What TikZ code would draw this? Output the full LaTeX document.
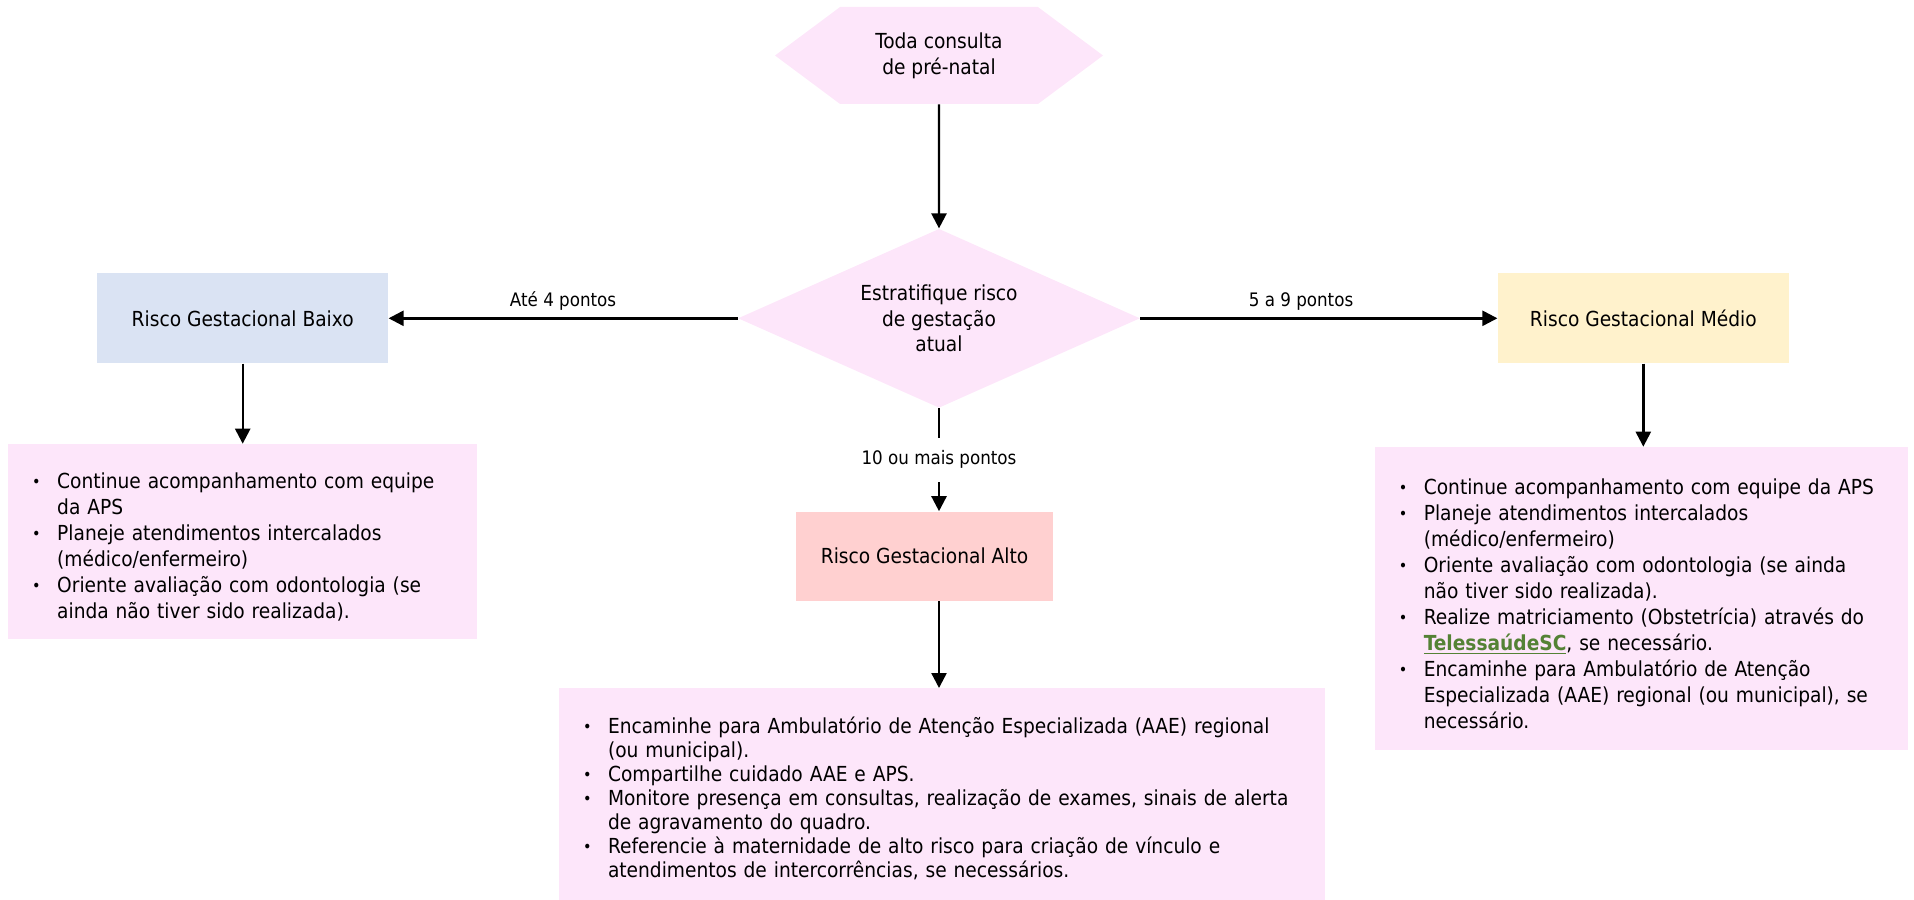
\documentclass[tikz,border=0pt]{standalone}
\usepackage{fontspec}
\setmainfont{DejaVu Sans Condensed}
\usetikzlibrary{shapes.geometric,shapes.symbols,arrows.meta,positioning}
\definecolor{rosa}{HTML}{FDE6FA}
\definecolor{azul}{HTML}{DAE3F3}
\definecolor{amarelo}{HTML}{FFF2CC}
\definecolor{vermelho}{HTML}{FFD0D0}
\definecolor{verde}{HTML}{548235}
\hyphenpenalty=10000
\exhyphenpenalty=10000
\newcommand{\topico}[1]{\par\noindent\hangindent=13pt\hangafter=1\makebox[13pt][l]{\hspace{0.5pt}\raisebox{0.3pt}{\footnotesize\textbullet}}#1\par}

\begin{document}
\begin{tikzpicture}[
  font=\fontsize{10.35pt}{12.8pt}\selectfont,
  hexa/.style={signal, signal to=west and east, signal pointer angle=73.4, fill=rosa, minimum width=164pt, minimum height=48.5pt, align=center, inner sep=1pt},
  losango/.style={diamond, aspect=2.25, fill=rosa, minimum width=201pt, minimum height=89.5pt, align=center, inner sep=0pt},
  risco/.style={minimum width=145.5pt, minimum height=45pt, align=center},
  lista/.style={fill=rosa, inner xsep=11.5pt, inner ysep=0pt, align=left, font=\fontsize{10.35pt}{13pt}\selectfont},
  rotulo/.style={font=\fontsize{9.3pt}{11pt}\selectfont},
  seta/.style={-{Triangle[width=7.5pt,length=7.5pt]}, line width=1.2pt},
  ]
  \useasboundingbox (0,0) rectangle (957pt,-449.5pt);
  \node[hexa] (inicio) at (469.5pt,-27.75pt) {Toda consulta\\de pré-natal};
  \node[losango, below=62pt of inicio] (estrat) {Estratifique risco\\de gestação\\atual};
  \node[risco, fill=azul, left=174.5pt of estrat] (baixo) {Risco Gestacional Baixo};
  \node[risco, fill=amarelo, right=178.5pt of estrat] (medio) {Risco Gestacional Médio};
  \node[risco, fill=vermelho, minimum width=128.5pt, minimum height=44.5pt, below=51.5pt of estrat, xshift=-7.25pt] (alto) {Risco Gestacional Alto};
  % caixas de conduta
  \node[lista, text width=211.5pt, minimum height=97.5pt, below=40pt of baixo] (lbaixo) {%
    \topico{Continue acompanhamento com equipe\newline da APS}
    \topico{Planeje atendimentos intercalados\newline (médico/enfermeiro)}
    \topico{Oriente avaliação com odontologia (se\newline ainda não tiver sido realizada).}};
  \node[lista, text width=243.5pt, minimum height=151.5pt, below=41.5pt of medio, xshift=-1pt] (lmedio) {%
    \topico{Continue acompanhamento com equipe da APS}
    \topico{Planeje atendimentos intercalados\newline (médico/enfermeiro)}
    \topico{Oriente avaliação com odontologia (se ainda\newline não tiver sido realizada).}
    \topico{Realize matriciamento (Obstetrícia) através do\newline \textcolor{verde}{\underline{\textbf{TelessaúdeSC}}}, se necessário.}
    \topico{Encaminhe para Ambulatório de Atenção\newline Especializada (AAE) regional (ou municipal), se\newline necessário.}};
  \node[lista, text width=360pt, minimum height=106pt, below=43.5pt of alto, xshift=8.75pt, font=\fontsize{10.35pt}{12pt}\selectfont] (lalto) {%
    \topico{Encaminhe para Ambulatório de Atenção Especializada (AAE) regional\newline (ou municipal).}
    \topico{Compartilhe cuidado AAE e APS.}
    \topico{Monitore presença em consultas, realização de exames, sinais de alerta\newline de agravamento do quadro.}
    \topico{Referencie à maternidade de alto risco para criação de vínculo e\newline atendimentos de intercorrências, se necessários.}};
  \draw[seta] (inicio) -- (estrat);
  \draw[seta] (estrat) -- node[rotulo, above]{Até 4 pontos} (baixo);
  \draw[seta] (estrat) -- node[rotulo, above, pos=0.45]{5 a 9 pontos} (medio);
  \draw[seta] (estrat) -- node[rotulo, fill=white, inner ysep=6.6pt]{10 ou mais pontos} (estrat.south |- alto.north);
  \draw[seta] (baixo) -- (lbaixo);
  \draw[seta] (medio.south) -- (medio.south |- lmedio.north);
  \draw[seta] (estrat.south |- alto.south) -- (estrat.south |- lalto.north);
\end{tikzpicture}
\end{document}
